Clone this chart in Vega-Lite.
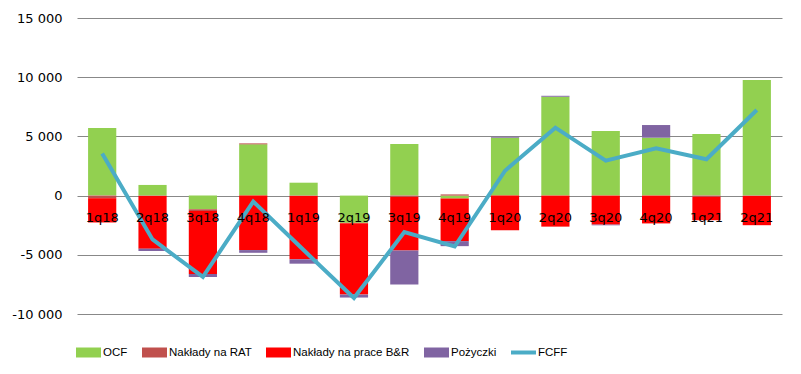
{
  "$schema": "https://vega.github.io/schema/vega-lite/v6.json",
  "width": 705,
  "height": 296,
  "autosize": {"type": "none"},
  "padding": {"left": 77, "top": 18, "right": 19, "bottom": 60},
  "background": "white",
  "config": {"view": {"stroke": null}},
  "data": {"values": [
    {"q": "1q18", "s": "OCF", "o": 0, "v": 5700},
    {"q": "1q18", "s": "Nakłady na RAT", "o": 1, "v": -220},
    {"q": "1q18", "s": "Nakłady na prace B&R", "o": 2, "v": -2050},
    {"q": "1q18", "s": "FCFF", "o": 4, "v": 3550},
    {"q": "2q18", "s": "OCF", "o": 0, "v": 900},
    {"q": "2q18", "s": "Nakłady na RAT", "o": 1, "v": -30},
    {"q": "2q18", "s": "Nakłady na prace B&R", "o": 2, "v": -4450},
    {"q": "2q18", "s": "Pożyczki", "o": 3, "v": -200},
    {"q": "2q18", "s": "FCFF", "o": 4, "v": -3700},
    {"q": "3q18", "s": "OCF", "o": 0, "v": -1150},
    {"q": "3q18", "s": "Nakłady na RAT", "o": 1, "v": -150},
    {"q": "3q18", "s": "Nakłady na prace B&R", "o": 2, "v": -5320},
    {"q": "3q18", "s": "Pożyczki", "o": 3, "v": -250},
    {"q": "3q18", "s": "FCFF", "o": 4, "v": -6870},
    {"q": "4q18", "s": "OCF", "o": 0, "v": 4330},
    {"q": "4q18", "s": "Nakłady na RAT", "o": 1, "v": 80},
    {"q": "4q18", "s": "Nakłady na prace B&R", "o": 2, "v": -4600},
    {"q": "4q18", "s": "Pożyczki", "o": 3, "v": -230},
    {"q": "4q18", "s": "FCFF", "o": 4, "v": -500},
    {"q": "1q19", "s": "OCF", "o": 0, "v": 1090},
    {"q": "1q19", "s": "Nakłady na RAT", "o": 1, "v": -30},
    {"q": "1q19", "s": "Nakłady na prace B&R", "o": 2, "v": -5350},
    {"q": "1q19", "s": "Pożyczki", "o": 3, "v": -370},
    {"q": "1q19", "s": "FCFF", "o": 4, "v": -4600},
    {"q": "2q19", "s": "OCF", "o": 0, "v": -2300},
    {"q": "2q19", "s": "Nakłady na RAT", "o": 1, "v": -30},
    {"q": "2q19", "s": "Nakłady na prace B&R", "o": 2, "v": -6030},
    {"q": "2q19", "s": "Pożyczki", "o": 3, "v": -250},
    {"q": "2q19", "s": "FCFF", "o": 4, "v": -8650},
    {"q": "3q19", "s": "OCF", "o": 0, "v": 4350},
    {"q": "3q19", "s": "Nakłady na RAT", "o": 1, "v": -120},
    {"q": "3q19", "s": "Nakłady na prace B&R", "o": 2, "v": -4520},
    {"q": "3q19", "s": "Pożyczki", "o": 3, "v": -2870},
    {"q": "3q19", "s": "FCFF", "o": 4, "v": -3080},
    {"q": "4q19", "s": "OCF", "o": 0, "v": -250},
    {"q": "4q19", "s": "Nakłady na RAT", "o": 1, "v": 100},
    {"q": "4q19", "s": "Nakłady na prace B&R", "o": 2, "v": -3600},
    {"q": "4q19", "s": "Pożyczki", "o": 3, "v": -420},
    {"q": "4q19", "s": "FCFF", "o": 4, "v": -4300},
    {"q": "1q20", "s": "OCF", "o": 0, "v": 4890},
    {"q": "1q20", "s": "Nakłady na prace B&R", "o": 2, "v": -2930},
    {"q": "1q20", "s": "Pożyczki", "o": 3, "v": 80},
    {"q": "1q20", "s": "FCFF", "o": 4, "v": 2100},
    {"q": "2q20", "s": "OCF", "o": 0, "v": 8350},
    {"q": "2q20", "s": "Nakłady na prace B&R", "o": 2, "v": -2620},
    {"q": "2q20", "s": "Pożyczki", "o": 3, "v": 80},
    {"q": "2q20", "s": "FCFF", "o": 4, "v": 5740},
    {"q": "3q20", "s": "OCF", "o": 0, "v": 5455},
    {"q": "3q20", "s": "Nakłady na prace B&R", "o": 2, "v": -2450},
    {"q": "3q20", "s": "Pożyczki", "o": 3, "v": -60},
    {"q": "3q20", "s": "FCFF", "o": 4, "v": 2950},
    {"q": "4q20", "s": "OCF", "o": 0, "v": 4890},
    {"q": "4q20", "s": "Nakłady na prace B&R", "o": 2, "v": -2350},
    {"q": "4q20", "s": "Pożyczki", "o": 3, "v": 1070},
    {"q": "4q20", "s": "FCFF", "o": 4, "v": 3990},
    {"q": "1q21", "s": "OCF", "o": 0, "v": 5200},
    {"q": "1q21", "s": "Nakłady na RAT", "o": 1, "v": -100},
    {"q": "1q21", "s": "Nakłady na prace B&R", "o": 2, "v": -1980},
    {"q": "1q21", "s": "FCFF", "o": 4, "v": 3070},
    {"q": "2q21", "s": "OCF", "o": 0, "v": 9760},
    {"q": "2q21", "s": "Nakłady na RAT", "o": 1, "v": -30},
    {"q": "2q21", "s": "Nakłady na prace B&R", "o": 2, "v": -2470},
    {"q": "2q21", "s": "FCFF", "o": 4, "v": 7230}
  ]},
  "encoding": {
    "x": {
      "field": "q", "type": "nominal", "sort": null,
      "scale": {"paddingInner": 0.44, "paddingOuter": 0.22},
      "axis": {
        "title": null, "domain": false, "ticks": false, "grid": false,
        "labelAngle": 0, "offset": -118, "labelPadding": 15, "zindex": 2,
        "labelFont": "DejaVu Sans", "labelFontSize": 13, "labelColor": "#000000"
      }
    }
  },
  "layer": [
    {
      "transform": [{"filter": "datum.s !== 'FCFF'"}],
      "mark": {"type": "bar"},
      "encoding": {
        "y": {
          "field": "v", "type": "quantitative", "stack": "zero",
          "scale": {"domain": [-10000, 15000], "nice": false},
          "axis": {
            "title": null, "domain": false, "ticks": false,
            "values": [-10000, -5000, 0, 5000, 10000, 15000],
            "labelExpr": "(datum.value < 0 ? '-' : '') + replace(format(abs(datum.value), ',d'), ',', ' ')",
            "labelPadding": 15, "labelFont": "DejaVu Sans", "labelFontSize": 13, "labelColor": "#000000",
            "gridColor": "#888888", "gridWidth": 1
          }
        },
        "color": {
          "field": "s", "type": "nominal",
          "scale": {
            "domain": ["OCF", "Nakłady na RAT", "Nakłady na prace B&R", "Pożyczki", "FCFF"],
            "range": ["#92D050", "#C0504D", "#FF0000", "#8064A2", "#4BACC6"]
          },
          "legend": {
            "title": null, "orient": "none", "direction": "horizontal",
            "legendX": -1, "legendY": 322,
            "symbolSize": 625, "symbolType": "M-1,-0.4H1V0.4H-1Z",
            "symbolStrokeWidth": 0, "symbolOpacity": 1,
            "labelFont": "Liberation Sans", "labelFontSize": 11.5, "labelColor": "#000000",
            "labelOffset": 2, "columnPadding": 14, "labelLimit": 300,
            "encode": {
              "symbols": {
                "update": {
                  "shape": {"signal": "datum.value === 'FCFF' ? 'M-1,-0.16H1V0.16H-1Z' : 'M-1,-0.4H1V0.4H-1Z'"},
                  "fill": {"signal": "scale('color', datum.value)"},
                  "opacity": {"value": 1}
                }
              }
            }
          }
        },
        "order": {"field": "o", "type": "quantitative"}
      }
    },
    {
      "transform": [{"filter": "datum.s === 'FCFF'"}],
      "mark": {"type": "line", "strokeWidth": 4, "strokeJoin": "miter"},
      "encoding": {
        "y": {"field": "v", "type": "quantitative"},
        "color": {"field": "s", "type": "nominal"}
      }
    }
  ]
}
